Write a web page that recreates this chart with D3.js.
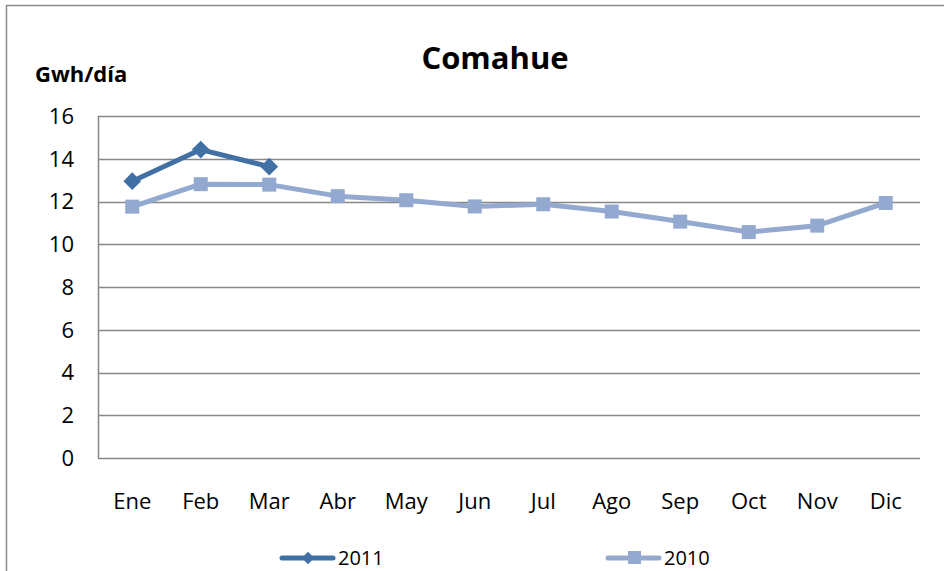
<!DOCTYPE html>
<html>
<head>
<meta charset="utf-8">
<script src="https://cdn.jsdelivr.net/npm/d3@7"></script>
<style>
  body { margin: 0; background: #fff; }
  svg text { font-family: "Open Sans", "Liberation Sans", sans-serif; }
</style>
</head>
<body>
<div id="chart"></div>
<script>
const months = ['Ene', 'Feb', 'Mar', 'Abr', 'May', 'Jun', 'Jul', 'Ago', 'Sep', 'Oct', 'Nov', 'Dic'];
const values2011 = [12.95, 14.43, 13.63];
const values2010 = [11.76, 12.81, 12.79, 12.25, 12.06, 11.77, 11.87, 11.53, 11.06, 10.57, 10.87, 11.93];
const yTicks = [0, 2, 4, 6, 8, 10, 12, 14, 16];

const W = 944, H = 571;
const plot = { left: 98, right: 920, top: 116, bottom: 458 };

const svg = d3.select('#chart')
    .append('svg')
    .attr('width', W)
    .attr('height', H);

// outer frame (cut off at right and bottom like the reference)
svg.append('rect')
    .attr('x', 6.5).attr('y', 5.5)
    .attr('width', W + 10).attr('height', H + 10)
    .attr('fill', 'none')
    .attr('stroke', '#8c8c8c')
    .attr('stroke-width', 1.5);

const x = d3.scaleBand().domain(months).range([plot.left, plot.right]);
const y = d3.scaleLinear().domain([0, 16]).range([plot.bottom, plot.top]);
const cx = m => x(m) + x.bandwidth() / 2;

// gridlines
svg.append('g')
    .selectAll('line')
    .data(yTicks)
    .enter()
    .append('line')
    .attr('x1', plot.left).attr('x2', plot.right)
    .attr('y1', d => Math.round(y(d)) + 0.5).attr('y2', d => Math.round(y(d)) + 0.5)
    .attr('stroke', '#868686')
    .attr('stroke-width', 1.5);

// y axis line
svg.append('line')
    .attr('x1', plot.left + 0.5).attr('x2', plot.left + 0.5)
    .attr('y1', plot.top).attr('y2', plot.bottom + 1)
    .attr('stroke', '#868686')
    .attr('stroke-width', 1.5);

// y tick labels
svg.append('g')
    .selectAll('text')
    .data(yTicks)
    .enter()
    .append('text')
    .attr('x', 74)
    .attr('y', d => y(d))
    .attr('dy', '0.36em')
    .attr('text-anchor', 'end')
    .attr('font-size', 22)
    .attr('fill', '#000')
    .text(d => d);

// x labels
svg.append('g')
    .selectAll('text')
    .data(months)
    .enter()
    .append('text')
    .attr('x', d => cx(d))
    .attr('y', 501)
    .attr('dy', '0.36em')
    .attr('text-anchor', 'middle')
    .attr('font-size', 22)
    .attr('fill', '#000')
    .text(d => d);

// title and axis title
svg.append('text')
    .attr('x', 495).attr('y', 58)
    .attr('dy', '0.36em')
    .attr('text-anchor', 'middle')
    .attr('font-size', 31)
    .attr('font-weight', 'bold')
    .text('Comahue');

svg.append('text')
    .attr('x', 35).attr('y', 74)
    .attr('dy', '0.36em')
    .attr('font-size', 22)
    .attr('font-weight', 'bold')
    .text('Gwh/día');

const line = d3.line()
    .x((d, i) => cx(months[i]))
    .y(d => y(d));

const c2010 = '#93a9cf';
const c2011 = '#4170a4';

// 2010 series
svg.append('path')
    .datum(values2010)
    .attr('d', line)
    .attr('fill', 'none')
    .attr('stroke', c2010)
    .attr('stroke-width', 5)
    .attr('stroke-linejoin', 'round');

svg.append('g')
    .selectAll('rect')
    .data(values2010)
    .enter()
    .append('rect')
    .attr('x', (d, i) => cx(months[i]) - 7)
    .attr('y', d => y(d) - 7)
    .attr('width', 14).attr('height', 14)
    .attr('fill', c2010);

// 2011 series
svg.append('path')
    .datum(values2011)
    .attr('d', line)
    .attr('fill', 'none')
    .attr('stroke', c2011)
    .attr('stroke-width', 5)
    .attr('stroke-linejoin', 'round');

const diamond = d3.symbol().type(d3.symbolDiamond2).size(200);
svg.append('g')
    .selectAll('path')
    .data(values2011)
    .enter()
    .append('path')
    .attr('d', diamond)
    .attr('transform', (d, i) => `translate(${cx(months[i])},${y(d)})`)
    .attr('fill', c2011);

// legend
const legend = [
    { name: '2011', color: c2011, x: 280, marker: 'diamond' },
    { name: '2010', color: c2010, x: 606, marker: 'square' }
];
const ly = 558;
legend.forEach(l => {
    const g = svg.append('g');
    g.append('line')
        .attr('x1', l.x + 2).attr('x2', l.x + 53)
        .attr('y1', ly).attr('y2', ly)
        .attr('stroke', l.color)
        .attr('stroke-width', 5)
        .attr('stroke-linecap', 'round');
    if (l.marker === 'diamond') {
        g.append('path')
            .attr('d', d3.symbol().type(d3.symbolDiamond2).size(100))
            .attr('transform', `translate(${l.x + 28},${ly})`)
            .attr('fill', l.color);
    } else {
        g.append('rect')
            .attr('x', l.x + 22).attr('y', ly - 7)
            .attr('width', 13).attr('height', 13)
            .attr('fill', l.color);
    }
    g.append('text')
        .attr('x', l.x + 58).attr('y', ly)
        .attr('dy', '0.36em')
        .attr('font-size', 20)
        .text(l.name);
});
</script>
</body>
</html>
